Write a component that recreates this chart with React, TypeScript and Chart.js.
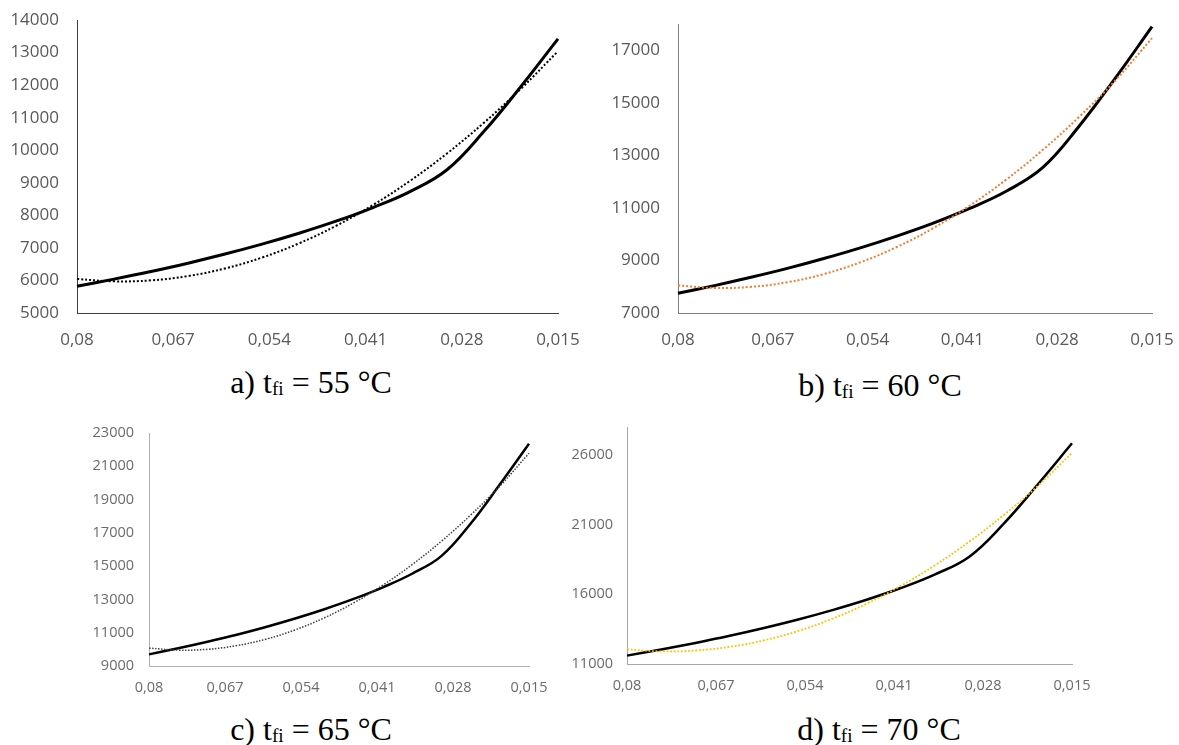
import React, { useEffect, useRef } from 'react';
import { Chart, registerables } from 'chart.js';

Chart.register(...registerables);

// x values (reversed axis: 0.08 on the left, 0.015 on the right)
const xValues = [0.08, 0.075, 0.07, 0.065, 0.06, 0.055, 0.05, 0.045, 0.04, 0.035, 0.03, 0.025, 0.02, 0.015];
const xTickValues = [0.08, 0.067, 0.054, 0.041, 0.028, 0.015];
const xTickLabels = ['0,08', '0,067', '0,054', '0,041', '0,028', '0,015'];

// a) tfi = 55 °C
const solidA = [5820, 6040, 6275, 6530, 6810, 7115, 7450, 7820, 8240, 8730, 9400, 10580, 11960, 13420];
const trendA = [6045, 5973, 6003, 6135, 6368, 6703, 7139, 7677, 8318, 9058, 9902, 10846, 11893, 13041];
const yTicksA = [5000, 6000, 7000, 8000, 9000, 10000, 11000, 12000, 13000, 14000];

// b) tfi = 60 °C
const solidB = [7750, 8043, 8358, 8698, 9073, 9480, 9927, 10421, 10982, 11636, 12532, 14107, 15950, 17900];
const trendB = [8050, 7954, 7995, 8170, 8482, 8929, 9512, 10230, 11086, 12075, 13202, 14462, 15860, 17460];
const yTicksB = [7000, 9000, 11000, 13000, 15000, 17000];

// c) tfi = 65 °C
const solidC = [9700, 10066, 10458, 10881, 11348, 11856, 12413, 13029, 13728, 14544, 15600, 17550, 19900, 22350];
const trendC = [10074, 9954, 10005, 10224, 10612, 11170, 11896, 12790, 13858, 15090, 16494, 18065, 19807, 21781];
const yTicksC = [9000, 11000, 13000, 15000, 17000, 19000, 21000, 23000];

// d) tfi = 70 °C
const solidD = [11600, 12040, 12512, 13022, 13584, 14195, 14867, 15609, 16449, 17432, 18700, 21050, 23880, 26830];
const trendD = [12051, 11906, 11967, 12231, 12698, 13370, 14244, 15321, 16606, 18089, 19780, 21672, 23769, 26145];
const yTicksD = [11000, 16000, 21000, 26000];

type Panel = {
  left: number; top: number; width: number; height: number;
  yMin: number; yMax: number; yTicks: number[];
  yWidth: number; xHeight: number;
  padding: { top: number; right: number; bottom: number; left: number };
  solid: number[]; trend: number[]; trendColor: string;
  fontSize: number; labelColor: string; axisColor: string;
  solidWidth: number; dotWidth: number;
  yGap: number; xGap: number;
};

const panels: Panel[] = [
  {
    left: 0, top: 0, width: 590, height: 360,
    yMin: 5000, yMax: 14000, yTicks: yTicksA, yWidth: 77, xHeight: 47,
    padding: { top: 20, right: 32, bottom: 0, left: 0 },
    solid: solidA, trend: trendA, trendColor: '#000000',
    fontSize: 17, labelColor: '#595959', axisColor: '#404040',
    solidWidth: 3, dotWidth: 2, yGap: 18, xGap: 17,
  },
  {
    left: 590, top: 0, width: 589, height: 360,
    yMin: 7000, yMax: 18000, yTicks: yTicksB, yWidth: 88, xHeight: 47,
    padding: { top: 24, right: 27, bottom: 0, left: 0 },
    solid: solidB, trend: trendB, trendColor: '#ED7D31',
    fontSize: 17, labelColor: '#595959', axisColor: '#7f7f7f',
    solidWidth: 3, dotWidth: 2, yGap: 18, xGap: 17,
  },
  {
    left: 0, top: 420, width: 560, height: 290,
    yMin: 9000, yMax: 23000, yTicks: yTicksC, yWidth: 149, xHeight: 44,
    padding: { top: 13, right: 31, bottom: 0, left: 0 },
    solid: solidC, trend: trendC, trendColor: '#404040',
    fontSize: 14.5, labelColor: '#6b6b6b', axisColor: '#b0b0b0',
    solidWidth: 2.5, dotWidth: 1.5, yGap: 15, xGap: 13,
  },
  {
    left: 560, top: 410, width: 619, height: 290,
    yMin: 11000, yMax: 28000, yTicks: yTicksD, yWidth: 67, xHeight: 36,
    padding: { top: 17, right: 107, bottom: 0, left: 0 },
    solid: solidD, trend: trendD, trendColor: '#FFC000',
    fontSize: 14.5, labelColor: '#6b6b6b', axisColor: '#a6a6a6',
    solidWidth: 2.5, dotWidth: 1.8, yGap: 14, xGap: 13,
  },
];

const captions = [
  { letter: 'a)', temp: '55', cx: 311, top: 366 },
  { letter: 'b)', temp: '60', cx: 880, top: 369 },
  { letter: 'c)', temp: '65', cx: 311, top: 713 },
  { letter: 'd)', temp: '70', cx: 879, top: 713 },
];

function PanelChart({ p }: { p: Panel }) {
  const ref = useRef<HTMLCanvasElement | null>(null);
  useEffect(() => {
    if (!ref.current) return;
    const font = { family: "'Open Sans', sans-serif", size: p.fontSize };
    const chart = new Chart(ref.current, {
      type: 'line',
      data: {
        datasets: [
          {
            data: xValues.map((x, i) => ({ x, y: p.trend[i] })),
            borderColor: p.trendColor,
            borderWidth: p.dotWidth,
            borderDash: [p.dotWidth, p.dotWidth],
            pointRadius: 0,
            tension: 0.4,
            fill: false,
            clip: 6,
          },
          {
            data: xValues.map((x, i) => ({ x, y: p.solid[i] })),
            borderColor: '#000000',
            borderWidth: p.solidWidth,
            pointRadius: 0,
            tension: 0.4,
            fill: false,
            clip: 6,
          },
        ],
      },
      options: {
        responsive: false,
        animation: false,
        events: [],
        layout: { padding: p.padding },
        plugins: { legend: { display: false }, tooltip: { enabled: false } },
        scales: {
          x: {
            type: 'linear',
            min: 0.015,
            max: 0.08,
            reverse: true,
            grid: {
              display: true,
              drawOnChartArea: false,
              drawTicks: true,
              tickLength: p.xGap,
              tickColor: 'rgba(0,0,0,0)',
            },
            border: { display: true, color: p.axisColor, width: 1 },
            ticks: {
              autoSkip: false,
              maxRotation: 0,
              padding: 0,
              font,
              color: p.labelColor,
              callback: (_v: any, i: number) => xTickLabels[i],
            },
            afterBuildTicks: (s: any) => {
              s.ticks = xTickValues.map((v) => ({ value: v }));
            },
            afterFit: (s: any) => {
              s.height = p.xHeight;
            },
          },
          y: {
            type: 'linear',
            min: p.yMin,
            max: p.yMax,
            grid: {
              display: true,
              drawOnChartArea: false,
              drawTicks: true,
              tickLength: p.yGap,
              tickColor: 'rgba(0,0,0,0)',
            },
            border: { display: true, color: p.axisColor, width: 1 },
            ticks: {
              padding: 0,
              font,
              color: p.labelColor,
              callback: (v: any) => String(v),
            },
            afterBuildTicks: (s: any) => {
              s.ticks = p.yTicks.map((v) => ({ value: v }));
            },
            afterFit: (s: any) => {
              s.width = p.yWidth;
            },
          },
        },
      },
    } as any);
    return () => chart.destroy();
  }, [p]);
  return (
    <canvas
      ref={ref}
      width={p.width}
      height={p.height}
      style={{ position: 'absolute', left: p.left, top: p.top, width: p.width, height: p.height }}
    />
  );
}

export default function App() {
  return (
    <div style={{ position: 'absolute', left: 0, top: 0, width: 1179, height: 745, background: '#ffffff', overflow: 'hidden' }}>
      {panels.map((p, i) => (
        <PanelChart key={i} p={p} />
      ))}
      {captions.map((c, i) => (
        <div
          key={i}
          style={{
            position: 'absolute',
            left: c.cx - 150,
            width: 300,
            top: c.top,
            textAlign: 'center',
            fontFamily: "'Liberation Serif', 'DejaVu Serif', serif",
            fontSize: 32,
            lineHeight: '32px',
            color: '#000',
            whiteSpace: 'nowrap',
          }}
        >
          {c.letter} t
          <span style={{ fontSize: '0.6em', position: 'relative', top: '0.12em' }}>fi</span>
          {' = '}
          {c.temp} °C
        </div>
      ))}
    </div>
  );
}
